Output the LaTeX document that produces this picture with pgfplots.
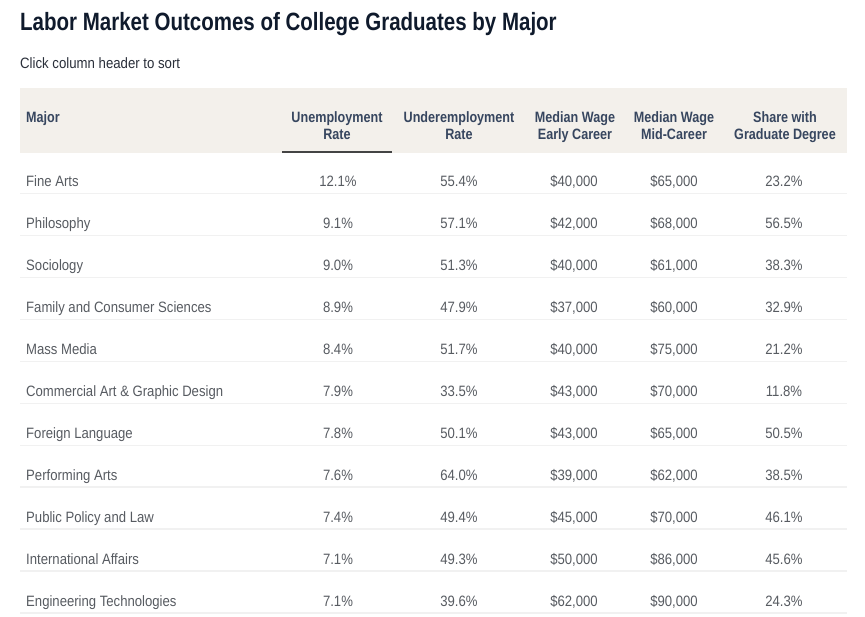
\documentclass[border=0pt]{standalone}
\usepackage{fontspec}
\setmainfont{Liberation Sans}[FakeStretch=0.875]
\newfontfamily\titlefont{Liberation Sans}[FakeStretch=0.82]
\newfontfamily\subfont{Liberation Sans}[FakeStretch=0.88]
\newfontfamily\headfont{Liberation Sans}[FakeStretch=0.84]
\usepackage{pgfplots}
\usepackage{pgfplotstable}
\pgfplotsset{compat=1.18}
\definecolor{titlecol}{HTML}{0F1A2C}
\definecolor{subcol}{HTML}{2A2F3A}
\definecolor{headcol}{HTML}{37465F}
\definecolor{bodycol}{HTML}{575B61}
\definecolor{headbg}{HTML}{F3F0EB}
\definecolor{rulecol}{HTML}{F1F1F1}
\definecolor{sortcol}{HTML}{444444}

\pgfplotstableread[col sep=comma]{
major,unemp,under,early,mid,grad
Fine Arts,12.1,55.4,40,65,23.2
Philosophy,9.1,57.1,42,68,56.5
Sociology,9.0,51.3,40,61,38.3
Family and Consumer Sciences,8.9,47.9,37,60,32.9
Mass Media,8.4,51.7,40,75,21.2
Commercial Art \& Graphic Design,7.9,33.5,43,70,11.8
Foreign Language,7.8,50.1,43,65,50.5
Performing Arts,7.6,64.0,39,62,38.5
Public Policy and Law,7.4,49.4,45,70,46.1
International Affairs,7.1,49.3,50,86,45.6
Engineering Technologies,7.1,39.6,62,90,24.3
}\majors

\newcommand{\bodyfont}{\fontsize{15}{18}\selectfont}

\begin{document}
\begin{tikzpicture}
\begin{axis}[
  scale only axis, width=865pt, height=616pt,
  xmin=0, xmax=865, ymin=0, ymax=616, y dir=reverse,
  axis lines=none, clip=false,
  every node near coord/.append style={inner sep=0pt, text=bodycol, font=\bodyfont},
  cell/.style={only marks, mark=*, mark size=0pt, mark options={draw=none, fill=none},
    nodes near coords, point meta=explicit symbolic},
]
% background
\fill[white] (axis cs:0,0) rectangle (axis cs:865,616);
% header band
\fill[headbg] (axis cs:20,88) rectangle (axis cs:847,153);
% sort underline
\draw[sortcol, line width=1.8pt] (axis cs:282,151.8) -- (axis cs:392,151.8);
% row separators
\pgfplotsinvokeforeach{0,...,10}{
  \draw[rulecol, line width=1.4pt] (axis cs:20,{193.5+41.95*#1}) -- (axis cs:847,{193.5+41.95*#1});
}
% title and subtitle
\node[anchor=base west, inner sep=0pt, text=titlecol] at (axis cs:20,30.7)
  {\titlefont\bfseries\fontsize{25}{30}\selectfont Labor Market Outcomes of College Graduates by Major};
\node[anchor=base west, inner sep=0pt, text=subcol] at (axis cs:20,68.3)
  {\subfont\fontsize{15}{18}\selectfont Click column header to sort};
% headers
\begin{scope}[every node/.style={inner sep=0pt, text=headcol, font=\headfont\bfseries\fontsize{15}{18}\selectfont}]
\node[anchor=base west] at (axis cs:26,122) {Major};
\node[anchor=base] at (axis cs:337,122) {Unemployment};
\node[anchor=base] at (axis cs:337,139.5) {Rate};
\node[anchor=base] at (axis cs:459,122) {Underemployment};
\node[anchor=base] at (axis cs:459,139.5) {Rate};
\node[anchor=base] at (axis cs:575,122) {Median Wage};
\node[anchor=base] at (axis cs:575,139.5) {Early Career};
\node[anchor=base] at (axis cs:674,122) {Median Wage};
\node[anchor=base] at (axis cs:674,139.5) {Mid-Career};
\node[anchor=base] at (axis cs:785,122) {Share with};
\node[anchor=base] at (axis cs:785,139.5) {Graduate Degree};
\end{scope}
% body cells
\addplot[cell, nodes near coords align={anchor=base west}] table[x expr=26, y expr={186.5+41.95*\coordindex}, meta=major] {\majors};
\addplot[cell, nodes near coords={\pgfplotspointmeta\%}, nodes near coords align={anchor=base}] table[x expr=338, y expr={186.5+41.95*\coordindex}, meta=unemp] {\majors};
\addplot[cell, nodes near coords={\pgfplotspointmeta\%}, nodes near coords align={anchor=base}] table[x expr=459, y expr={186.5+41.95*\coordindex}, meta=under] {\majors};
\addplot[cell, nodes near coords={\$\pgfplotspointmeta,000}, nodes near coords align={anchor=base}] table[x expr=574, y expr={186.5+41.95*\coordindex}, meta=early] {\majors};
\addplot[cell, nodes near coords={\$\pgfplotspointmeta,000}, nodes near coords align={anchor=base}] table[x expr=674, y expr={186.5+41.95*\coordindex}, meta=mid] {\majors};
\addplot[cell, nodes near coords={\pgfplotspointmeta\%}, nodes near coords align={anchor=base}] table[x expr=784, y expr={186.5+41.95*\coordindex}, meta=grad] {\majors};
\end{axis}
\end{tikzpicture}
\end{document}
